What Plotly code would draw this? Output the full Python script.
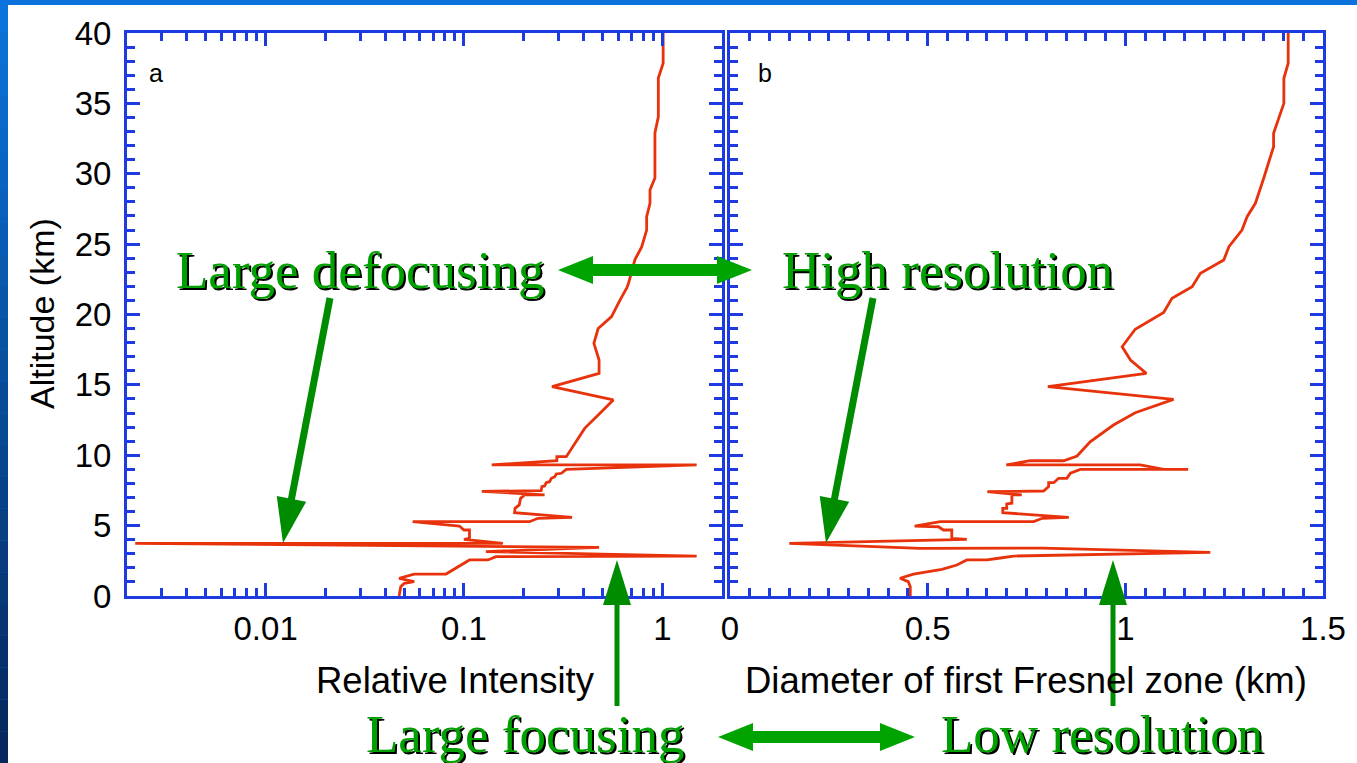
import math
import plotly.graph_objects as go

W, H = 1357, 763

# ---------------- data ----------------
# Panel a: relative intensity (log scale) vs altitude (km)
intensity_a = [1.01, 1.01, 1.01, 0.955, 0.955, 0.918, 0.918, 0.867, 0.867, 0.834,
               0.834, 0.787, 0.728, 0.675, 0.663, 0.611, 0.588, 0.555, 0.475, 0.452,
               0.48, 0.48, 0.278, 0.566, 0.475, 0.406, 0.328, 0.294, 0.294, 0.138,
               1.49, 0.328, 0.310, 0.292, 0.287, 0.276, 0.270, 0.260, 0.255, 0.247,
               0.245, 0.123, 0.255, 0.202, 0.193, 0.19, 0.181, 0.18, 0.351, 0.236,
               0.214, 0.0551, 0.0948, 0.1, 0.1066, 0.1066, 0.1, 0.157, 0.0022, 0.48,
               0.129, 1.49, 0.145, 0.132, 0.1066, 0.0966, 0.0877, 0.0812, 0.0561, 0.0471,
               0.0561, 0.05, 0.048, 0.0471, 0.0471]
altitude_a = [40.0, 39.0, 37.85, 36.8, 34.05, 32.9, 29.7, 28.85, 27.9, 26.95,
              26.0, 24.8, 23.9, 22.2, 21.9, 21.0, 20.55, 19.85, 19.0, 17.95,
              16.77, 15.82, 14.87, 13.93, 12.86, 11.91, 9.90, 9.90, 9.61, 9.31,
              9.31, 9.0, 8.72, 8.67, 8.48, 8.36, 8.12, 8.05, 7.82, 7.77,
              7.48, 7.44, 7.18, 7.18, 6.94, 6.47, 6.23, 5.92, 5.59, 5.52,
              5.28, 5.28, 4.97, 4.69, 4.69, 4.10, 4.03, 3.74, 3.74, 3.46,
              3.15, 2.84, 2.8, 2.56, 2.56, 2.2, 1.9, 1.56, 1.56, 1.26,
              1.02, 0.9, 0.66, 0.2, 0.0]

# Panel b: diameter of first Fresnel zone (km) vs altitude (km)
fresnel_b = [1.412, 1.412, 1.401, 1.401, 1.375, 1.375, 1.350, 1.329, 1.308, 1.295,
             1.262, 1.249, 1.190, 1.169, 1.118, 1.097, 1.025, 0.992, 1.013, 1.053,
             0.804, 1.122, 1.025, 0.970, 0.911, 0.878, 0.844, 0.759, 0.699, 1.038,
             1.097, 1.159, 0.886, 0.861, 0.852, 0.831, 0.819, 0.806, 0.806, 0.793,
             0.651, 0.738, 0.713, 0.713, 0.700, 0.700, 0.690, 0.690, 0.857, 0.790,
             0.768, 0.532, 0.467, 0.527, 0.540, 0.561, 0.561, 0.599, 0.150, 0.481,
             0.79, 1.215, 0.717, 0.684, 0.650, 0.599, 0.574, 0.536, 0.464, 0.430,
             0.451, 0.456, 0.456]
altitude_b = [40.0, 37.85, 36.78, 35.0, 32.87, 31.92, 29.68, 27.9, 26.95, 26.0,
              24.82, 23.87, 22.93, 21.98, 21.15, 20.15, 18.95, 17.71, 16.77, 15.82,
              14.87, 13.97, 13.02, 12.15, 10.96, 9.95, 9.61, 9.61, 9.31, 9.31,
              9.0, 9.0, 9.0, 8.72, 8.36, 8.36, 8.05, 8.05, 7.77, 7.46,
              7.41, 7.18, 7.18, 6.59, 6.54, 6.23, 6.23, 5.92, 5.59, 5.52,
              5.28, 5.28, 4.97, 4.92, 4.69, 4.69, 4.10, 4.03, 3.74, 3.38,
              3.4, 3.1, 2.84, 2.7, 2.56, 2.56, 2.2, 1.9, 1.56, 1.26,
              1.02, 0.66, 0.0]

x_a_range = [0.002, 2]
x_b_range = [0, 1.5]
y_range = [0, 40]

panel_labels = ["a", "b"]
x_titles = ["Relative Intensity", "Diameter of first Fresnel zone (km)"]
y_title = "Altitude (km)"
notes = ["Large defocusing", "High resolution", "Large focusing", "Low resolution"]

# ---------------- style ----------------
BLUE = "#1e3be2"
RED = "#e8320c"
DARK_GREEN = "#008c00"
GREEN = "#00a400"
TEXT_GREEN = "#00a000"
SANS = "Liberation Sans, Arial, sans-serif"
SERIF = "Liberation Serif, Times New Roman, serif"


def fx(p):
    return p / W


def fy(p):
    return 1 - p / H


fig = go.Figure()
fig.add_trace(go.Scatter(x=intensity_a, y=altitude_a, mode="lines",
                         line=dict(color=RED, width=2.8), xaxis="x", yaxis="y",
                         hoverinfo="skip"))
fig.add_trace(go.Scatter(x=fresnel_b, y=altitude_b, mode="lines",
                         line=dict(color=RED, width=2.8), xaxis="x2", yaxis="y2",
                         hoverinfo="skip"))

common = dict(showline=True, linecolor=BLUE, linewidth=3, mirror="allticks",
              ticks="inside", tickcolor=BLUE, tickwidth=2.5, ticklen=13,
              showgrid=False, zeroline=False, automargin=False,
              tickfont=dict(family=SANS, size=33, color="black"))

y_dom = [fy(596), fy(33)]
fig.update_layout(
    xaxis=dict(type="log", range=[math.log10(x_a_range[0]), math.log10(x_a_range[1])],
               tickmode="linear", tick0=0, dtick=1, domain=[fx(127), fx(722)],
               anchor="y", ticklabelstandoff=1,
               minor=dict(ticks="inside", ticklen=8, tickwidth=2.5, tickcolor=BLUE,
                          dtick="D1", showgrid=False),
               **common),
    yaxis=dict(range=y_range, tickmode="linear", tick0=0, dtick=5, domain=y_dom,
               anchor="x", ticklabelstandoff=6,
               minor=dict(ticks="inside", ticklen=8, tickwidth=2.5, tickcolor=BLUE,
                          dtick=1, showgrid=False),
               **common),
    xaxis2=dict(range=x_b_range, tickmode="linear", tick0=0, dtick=0.5,
                domain=[fx(730), fx(1323)], anchor="y2", ticklabelstandoff=1,
                minor=dict(ticks="inside", ticklen=8, tickwidth=2.5, tickcolor=BLUE,
                           dtick=0.05, showgrid=False),
                **common),
    yaxis2=dict(range=y_range, tickmode="linear", tick0=0, dtick=5, domain=y_dom,
                anchor="x2", showticklabels=False,
                minor=dict(ticks="inside", ticklen=8, tickwidth=2.5, tickcolor=BLUE,
                           dtick=1, showgrid=False),
                **common),
)

shapes = []
# slide background: white page on a blue frame
n_strip = 24
top_c = (11, 116, 220)
bot_c = (6, 40, 92)
for i in range(n_strip):
    t = i / (n_strip - 1)
    c = tuple(int(top_c[k] + (bot_c[k] - top_c[k]) * t) for k in range(3))
    shapes.append(dict(type="rect", xref="paper", yref="paper", layer="below",
                       x0=0, x1=fx(8), y0=fy(H * (i + 1) / n_strip), y1=fy(H * i / n_strip),
                       fillcolor="rgb(%d,%d,%d)" % c, line=dict(width=0)))
shapes.append(dict(type="rect", xref="paper", yref="paper", layer="below",
                   x0=fx(8), x1=1, y0=0, y1=fy(5), fillcolor="white", line=dict(width=0)))


def arrow(tail, tip, shaft, head_len, head_w, color, both=False):
    out = []
    (sx, sy), (tx, ty) = tail, tip
    L = math.hypot(tx - sx, ty - sy)
    dx, dy = (tx - sx) / L, (ty - sy) / L
    nx, ny = -dy, dx

    def head(px_, py_, ddx, ddy):
        bx, by = px_ - ddx * head_len, py_ - ddy * head_len
        pts = [(px_, py_), (bx + nx * head_w / 2, by + ny * head_w / 2),
               (bx - nx * head_w / 2, by - ny * head_w / 2)]
        path = "M " + " L ".join("%.5f,%.5f" % (fx(a), fy(b)) for a, b in pts) + " Z"
        return dict(type="path", xref="paper", yref="paper", path=path,
                    fillcolor=color, line=dict(width=0), layer="above")

    s0 = (sx + dx * head_len * 0.9, sy + dy * head_len * 0.9) if both else (sx, sy)
    s1 = (tx - dx * head_len * 0.9, ty - dy * head_len * 0.9)
    out.append(dict(type="line", xref="paper", yref="paper", layer="above",
                    x0=fx(s0[0]), y0=fy(s0[1]), x1=fx(s1[0]), y1=fy(s1[1]),
                    line=dict(color=color, width=shaft)))
    out.append(head(tx, ty, dx, dy))
    if both:
        out.append(head(sx, sy, -dx, -dy))
    return out


shapes += arrow((330, 298), (283, 543), 7, 45, 30, DARK_GREEN)
shapes += arrow((873, 298), (826, 543), 7, 45, 30, DARK_GREEN)
shapes += arrow((617, 706), (617, 560), 5, 45, 28, DARK_GREEN)
shapes += arrow((1113, 706), (1113, 560), 5, 45, 28, DARK_GREEN)
shapes += arrow((558, 270), (752, 270), 12, 35, 28, GREEN, both=True)
shapes += arrow((718, 737), (915, 737), 12, 35, 28, GREEN, both=True)

annotations = []
# panel letters
for lab, xp in zip(panel_labels, [156, 765]):
    annotations.append(dict(text=lab, x=fx(xp), y=fy(73), xref="paper", yref="paper",
                            showarrow=False, xanchor="center", yanchor="middle",
                            font=dict(family=SANS, size=25, color="black")))
# axis titles
for t, xp in zip(x_titles, [455, 1026]):
    annotations.append(dict(text=t, x=fx(xp), y=fy(680), xref="paper", yref="paper",
                            showarrow=False, xanchor="center", yanchor="middle",
                            font=dict(family=SANS, size=36.5, color="black")))
annotations.append(dict(text=y_title, x=fx(42), y=fy(314), xref="paper", yref="paper",
                        showarrow=False, xanchor="center", yanchor="middle", textangle=-90,
                        font=dict(family=SANS, size=34, color="black")))
# green callouts
for t, (xp, yp) in zip(notes, [(360, 270), (947, 270), (525, 734), (1102, 734)]):
    annotations.append(dict(text=t, x=fx(xp), y=fy(yp), xref="paper", yref="paper",
                            showarrow=False, xanchor="center", yanchor="middle",
                            font=dict(family=SERIF, size=53, color=TEXT_GREEN,
                                      shadow="2px 2px 0.5px #000000")))

fig.update_layout(
    width=W, height=H, margin=dict(l=0, r=0, t=0, b=0, pad=0, autoexpand=False),
    paper_bgcolor="#0b72dc", plot_bgcolor="white", showlegend=False,
    shapes=shapes, annotations=annotations,
)

fig.write_html("out.html", config={"displayModeBar": False},
               post_script="document.body.style.margin='0';"
                           "document.body.style.overflow='hidden';")
